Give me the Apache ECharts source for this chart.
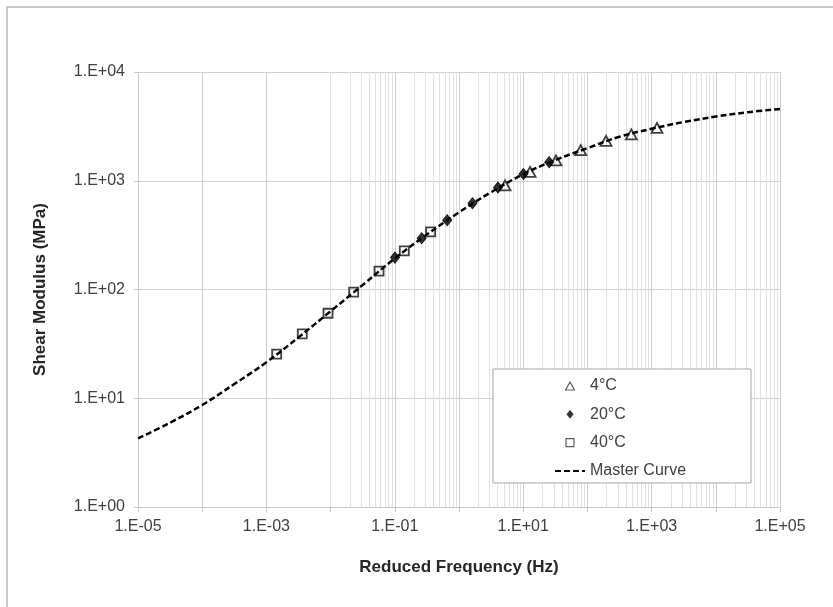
<!DOCTYPE html>
<html>
<head>
<meta charset="utf-8">
<script src="https://cdn.jsdelivr.net/npm/echarts@6/dist/echarts.min.js"></script>
<style>
html,body{margin:0;padding:0;background:#fff;}
#chart{width:833px;height:607px;}
</style>
</head>
<body>
<div id="chart"></div>
<script>
// ---- data ----
const seriesNames = ['4°C', '20°C', '40°C', 'Master Curve'];

const freq4C = [5.21, 12.8, 32.4, 78.7, 195, 483, 1213];
const modulus4C = [907, 1208, 1541, 1914, 2328, 2673, 3068];

const freq20C = [0.1007, 0.262, 0.655, 1.62, 4.05, 10.1, 25.4];
const modulus20C = [196.5, 296.5, 434, 622, 866, 1153, 1483];

const freq40C = [0.001445, 0.00362, 0.00912, 0.0229, 0.0568, 0.1406, 0.362];
const modulus40C = [25.4, 39.1, 60.5, 94.4, 147.3, 226.5, 338.8];

const masterFreq = [1e-5, 3.16e-5, 1e-4, 3.16e-4, 1e-3, 3.16e-3, 1e-2, 3.16e-2, 1e-1, 3.16e-1,
  1, 3.16, 10, 31.6, 100, 316, 1000, 3162, 1e4, 3.16e4, 1e5];
const masterModulus = [4.27, 5.96, 8.67, 13.5, 21.4, 36.3, 63.1, 110, 193, 320,
  513, 785, 1148, 1549, 1995, 2541, 3006, 3467, 3890, 4266, 4571];

const xTickLabels = ['1.E-05', '1.E-03', '1.E-01', '1.E+01', '1.E+03', '1.E+05'];
const yTickLabels = ['1.E+00', '1.E+01', '1.E+02', '1.E+03', '1.E+04'];

// ---- helpers ----
function zip(a, b) { return a.map((v, i) => [v, b[i]]); }
function expLabel(v) {
  const e = Math.round(Math.log10(v));
  return '1.E' + (e < 0 ? '-' : '+') + String(Math.abs(e)).padStart(2, '0');
}
// minor vertical grid lines at 2..9 x 10^n (axis structure)
const minorLines = [];
for (let n = -5; n < 5; n++) {
  for (let k = 2; k <= 9; k++) minorLines.push({ xAxis: k * Math.pow(10, n) });
}

const font = 'Liberation Sans, Arial, sans-serif';
const chart = echarts.init(document.getElementById('chart'), null, { renderer: 'canvas' });

const hollow = { color: 'rgba(255,255,255,0)', borderColor: '#111', borderWidth: 1.8 };

chart.setOption({
  animation: false,
  backgroundColor: '#fff',
  graphic: [{
    type: 'rect', silent: true,
    shape: { x: 7, y: 7, width: 900, height: 700 },
    style: { fill: 'none', stroke: '#b8b8b8', lineWidth: 1.5 }
  }],
  grid: { left: 138, top: 72, right: 53, bottom: 100, containLabel: false },
  legend: {
    orient: 'vertical',
    left: 493, top: 369,
    data: [
      { name: '4°C', icon: 'path://M5,0L10,9L0,9Z',
        itemStyle: { color: 'rgba(255,255,255,0)', borderColor: '#333', borderWidth: 1.2 } },
      { name: '20°C', icon: 'path://M4,0L8,5L4,10L0,5Z',
        itemStyle: { color: '#000', borderColor: '#000', borderWidth: 0.5 } },
      { name: '40°C', icon: 'path://M0,0H8V8H0Z',
        itemStyle: { color: 'rgba(255,255,255,0)', borderColor: '#333', borderWidth: 1.2 } },
      { name: 'Master Curve',
        itemStyle: { color: 'rgba(0,0,0,0)', borderColor: 'rgba(0,0,0,0)', borderWidth: 0 } }
    ],
    backgroundColor: '#fff',
    borderColor: '#a6a6a6',
    borderWidth: 1,
    padding: [8, 65, 3, 61],
    itemWidth: 30,
    itemHeight: 8,
    itemGap: 10.33,
    textStyle: { fontFamily: font, fontSize: 16, color: '#404040', lineHeight: 18 }
  },
  xAxis: {
    type: 'log', logBase: 10, min: 1e-5, max: 1e5, interval: 1,
    name: 'Reduced Frequency (Hz)', nameLocation: 'middle', nameGap: 52,
    nameTextStyle: { fontFamily: font, fontSize: 17, fontWeight: 'bold', color: '#262626' },
    axisLine: { show: true, lineStyle: { color: '#c8c8c8', width: 1 } },
    axisTick: { show: true, length: 5, lineStyle: { color: '#c8c8c8' } },
    axisLabel: {
      margin: 12, fontFamily: font, fontSize: 16, color: '#404040',
      formatter: function (v) {
        const s = expLabel(v);
        return xTickLabels.indexOf(s) >= 0 ? s : '';
      }
    },
    splitLine: { show: true, lineStyle: { color: '#cccccc', width: 1 } }
  },
  yAxis: {
    type: 'log', logBase: 10, min: 1, max: 1e4, interval: 1,
    name: 'Shear Modulus (MPa)', nameLocation: 'middle', nameGap: 89, nameRotate: 90,
    nameTextStyle: { fontFamily: font, fontSize: 17, fontWeight: 'bold', color: '#262626' },
    axisLine: { show: true, lineStyle: { color: '#c8c8c8', width: 1 } },
    axisTick: { show: true, length: 4, lineStyle: { color: '#c8c8c8' } },
    axisLabel: {
      margin: 13, fontFamily: font, fontSize: 16, color: '#404040',
      formatter: function (v) {
        const s = expLabel(v);
        return yTickLabels.indexOf(s) >= 0 ? s : '';
      }
    },
    splitLine: { show: true, lineStyle: { color: '#d0d0d0', width: 1 } }
  },
  series: [
    {
      name: '4°C', type: 'scatter', symbol: 'triangle', symbolSize: [11, 10],
      itemStyle: hollow, data: zip(freq4C, modulus4C), z: 3
    },
    {
      name: '20°C', type: 'scatter', symbol: 'diamond', symbolSize: [9, 11],
      itemStyle: { color: '#000', borderColor: '#000', borderWidth: 1 },
      data: zip(freq20C, modulus20C), z: 3
    },
    {
      name: '40°C', type: 'scatter', symbol: 'rect', symbolSize: 9,
      itemStyle: hollow, data: zip(freq40C, modulus40C), z: 3
    },
    {
      name: 'Master Curve', type: 'line', symbol: 'none', smooth: 0.4,
      lineStyle: { color: '#000', width: 2.5, type: [6, 3] },
      itemStyle: { color: '#000' },
      data: zip(masterFreq, masterModulus), z: 4,
      markLine: {
        silent: true, symbol: 'none', label: { show: false },
        lineStyle: { color: '#e0e0e0', width: 1, type: 'solid' },
        data: minorLines, z: 1, animation: false
      }
    }
  ]
});
</script>
</body>
</html>
